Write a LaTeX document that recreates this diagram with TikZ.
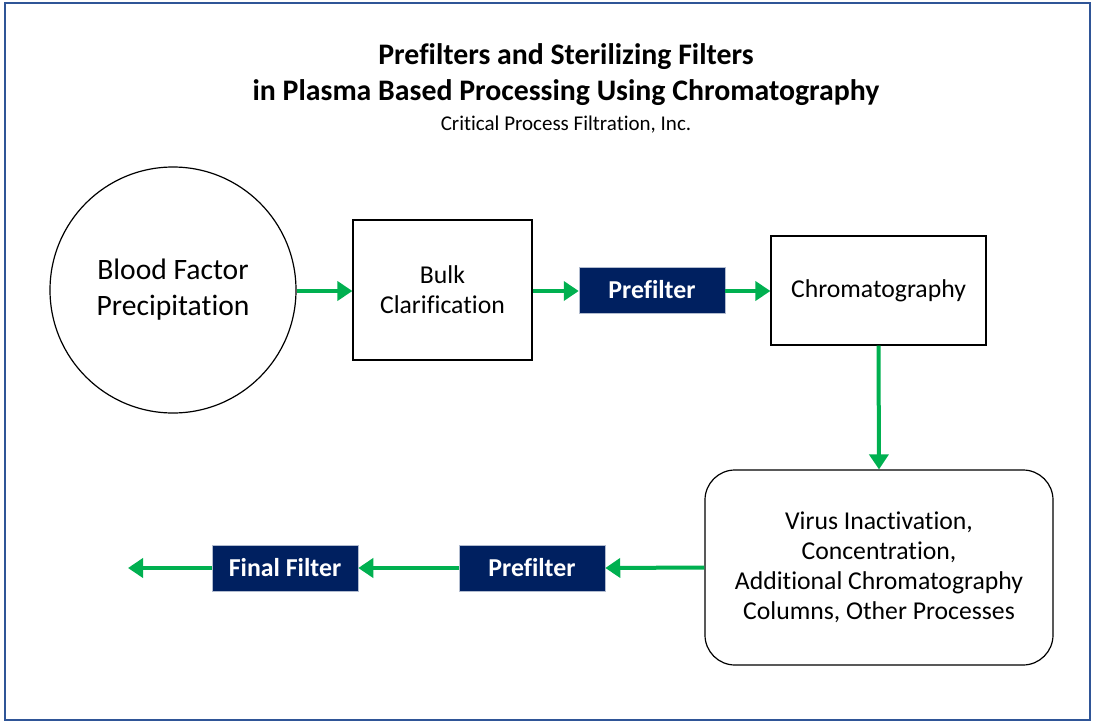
\documentclass[tikz,border=0pt]{standalone}
\usepackage{fontspec}
\setmainfont{Carlito}[Ligatures=NoCommon]
\usetikzlibrary{arrows.meta}
\definecolor{frameblue}{HTML}{2F5597}
\definecolor{navy}{HTML}{002060}
\definecolor{grn}{HTML}{00B050}
\begin{document}
\begin{tikzpicture}[x=1pt,y=-1pt,
  proc/.style={draw=black, line width=1.2pt, align=center, inner sep=0pt},
  filt/.style={fill=navy, draw=white!70!navy, line width=0.5pt, text=white, font=\fontsize{25.8}{30}\selectfont\bfseries, minimum width=146pt, minimum height=46pt, inner sep=0pt},
  flow/.style={draw=grn, line width=4pt, -{Triangle[length=15pt,width=19pt]}}]
\useasboundingbox (0,0) rectangle (1093,723);
\draw[frameblue, line width=2.5pt] (5,3) rectangle (1090,720);
\node[font=\fontsize{29.8}{36}\selectfont\bfseries, align=center] (title) at (566,75) {Prefilters and Sterilizing Filters\\in Plasma Based Processing Using Chromatography};
\node[font=\fontsize{21}{24}\selectfont] (sub) at (566,125) {Critical Process Filtration, Inc.};
\node[proc, circle, minimum size=246pt, font=\fontsize{29.6}{36}\selectfont] (blood) at (173,290) {Blood Factor\\Precipitation};
\node[proc, minimum width=179pt, minimum height=140pt, font=\fontsize{25.7}{30}\selectfont] (bulk) at (442.5,290) {Bulk\\Clarification};
\node[filt] (pf1) at (652,290) {Prefilter};
\node[proc, minimum width=215pt, minimum height=109pt, font=\fontsize{25.7}{30}\selectfont] (chrom) at (878.5,290.5) {Chromatography};
\node[proc, rounded corners=30pt, minimum width=348pt, minimum height=195pt, font=\fontsize{25.7}{30}\selectfont] (virus) at (879,567.5) {Virus Inactivation,\\Concentration,\\Additional Chromatography\\Columns, Other Processes};
\node[filt] (pf2) at (532,568) {Prefilter};
\node[filt] (final) at (285,568) {Final Filter};
\coordinate (out) at (128,568);
\draw[flow] (blood.east |- 0,291) -- (bulk.west |- 0,291);
\draw[flow] (bulk.east |- 0,291) -- (pf1.west |- 0,291);
\draw[flow] (pf1.east |- 0,291) -- (chrom.west |- 0,291);
\draw[flow] (chrom.south) -- (virus.north);
\draw[flow] (virus.west) -- (pf2.east);
\draw[flow] (pf2.west) -- (final.east);
\draw[flow] (final.west) -- (out);
\end{tikzpicture}
\end{document}
